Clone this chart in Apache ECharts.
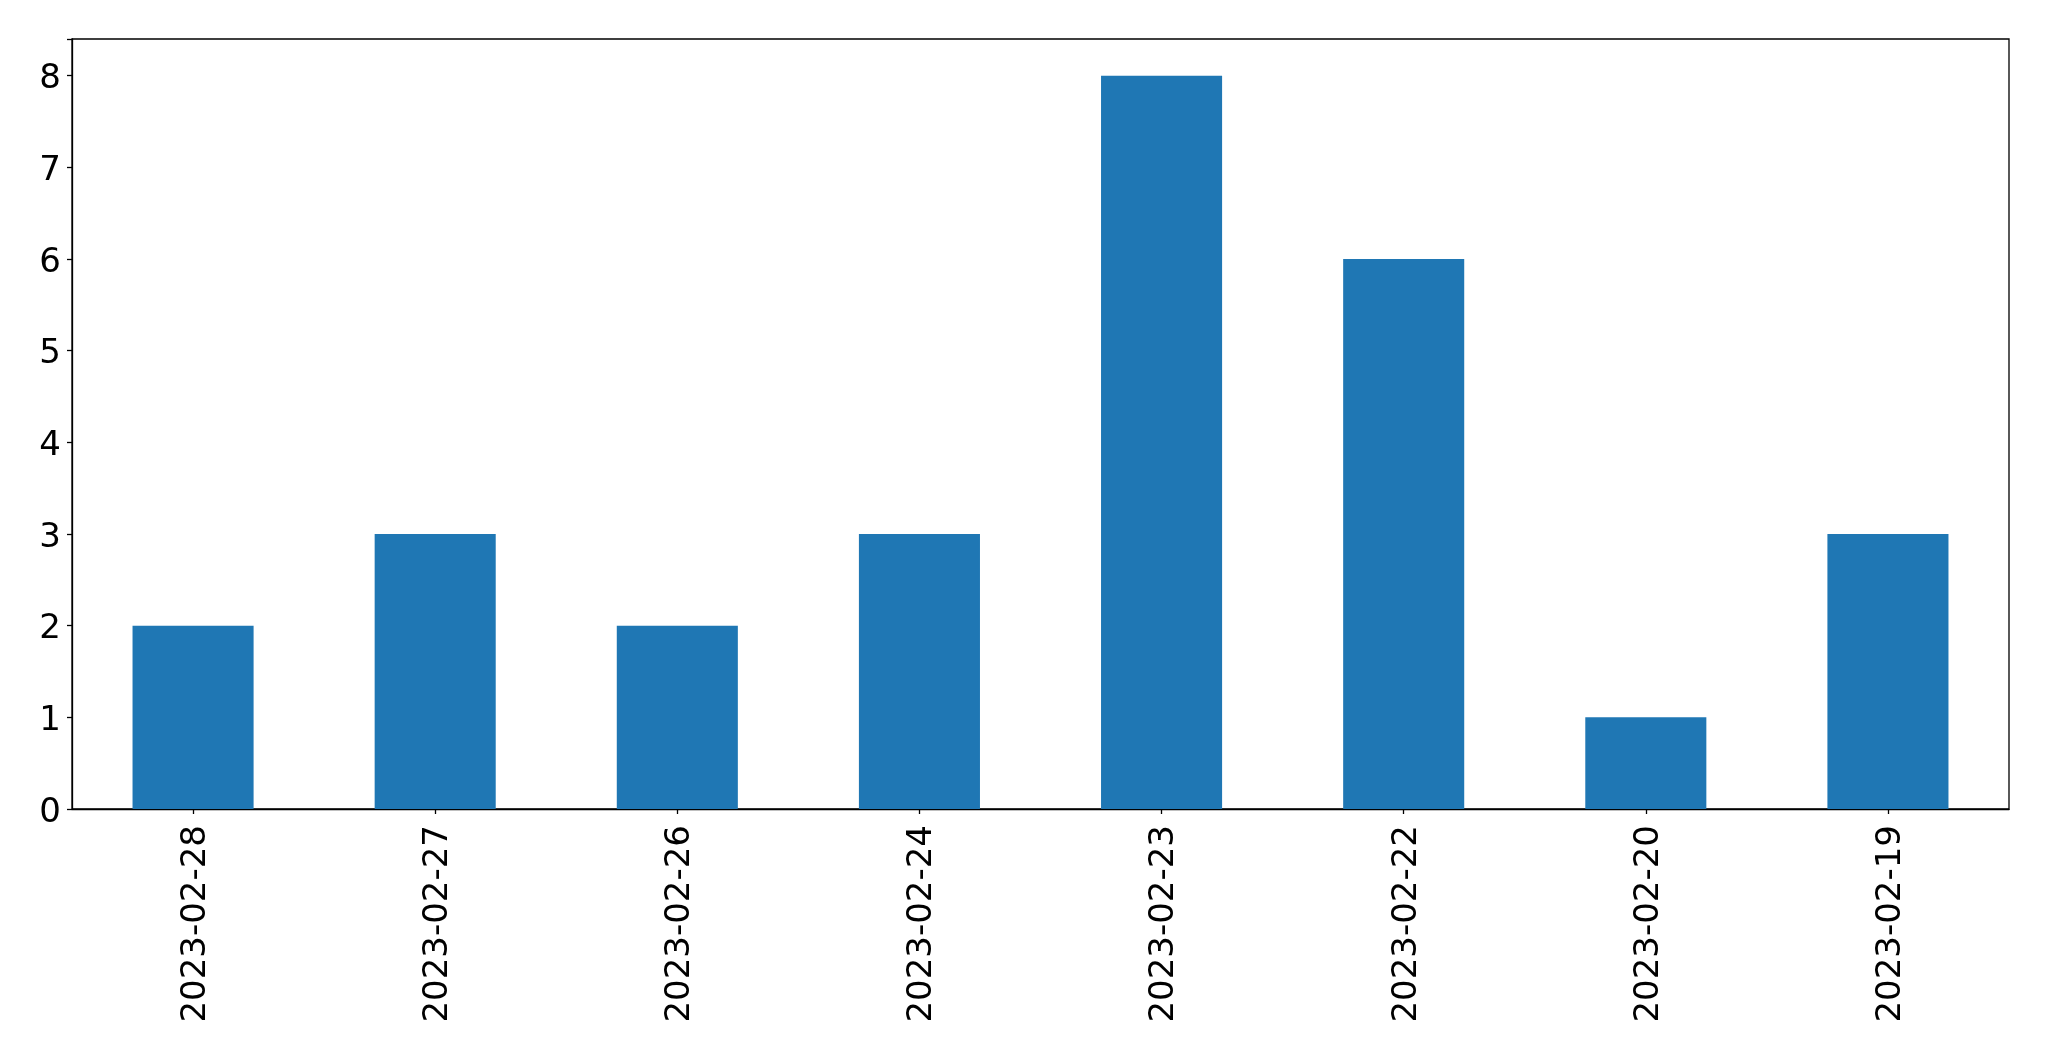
<!DOCTYPE html>
<html>
<head>
<meta charset="utf-8">
<script src="https://cdn.jsdelivr.net/npm/echarts@6/dist/echarts.min.js"></script>
<style>
html,body{margin:0;padding:0;background:#fff;}
#chart{width:2049px;height:1061px;}
</style>
</head>
<body>
<div id="chart"></div>
<script>
const categories = ['2023-02-28','2023-02-27','2023-02-26','2023-02-24','2023-02-23','2023-02-22','2023-02-20','2023-02-19'];
const values = [2,3,2,3,8,6,1,3];
const yTicks = [0,1,2,3,4,5,6,7,8];

const chart = echarts.init(document.getElementById('chart'), null, {renderer:'canvas'});
const font = 'DejaVu Sans';
chart.setOption({
  animation:false,
  backgroundColor:'#ffffff',
  grid:{left:72, top:39, right:40, bottom:252, show:true, borderColor:'#000', borderWidth:1.3, backgroundColor:'transparent'},
  xAxis:{
    type:'category',
    data:categories,
    boundaryGap:true,
    axisLine:{show:true, lineStyle:{color:'#000', width:1.3}},
    axisTick:{show:true, alignWithLabel:true, length:5, lineStyle:{color:'#000', width:1.3}},
    axisLabel:{rotate:90, margin:16, color:'#000', fontFamily:font, fontSize:34, interval:0,
      formatter:function(v){ return '{a|' + v + '}'; },
      rich:{a:{color:'#000', fontFamily:font, fontSize:34, padding:[6,0,0,0]}}},
    splitLine:{show:false}
  },
  yAxis:{
    type:'value',
    min:0, max:8.4, interval:1,
    axisLine:{show:true, lineStyle:{color:'#000', width:1.3}},
    axisTick:{show:true, length:5, lineStyle:{color:'#000', width:1.3}},
    axisLabel:{margin:11, color:'#000', fontFamily:font, fontSize:34,
      formatter:function(v){ return yTicks.indexOf(v) >= 0 ? '{a|' + v + '}' : ''; },
      rich:{a:{color:'#000', fontFamily:font, fontSize:34, padding:[8,0,0,0]}}},
    splitLine:{show:false}
  },
  series:[{
    type:'bar',
    data:values,
    barWidth:'50%',
    itemStyle:{color:'#1f77b4'}
  }]
});
</script>
</body>
</html>
